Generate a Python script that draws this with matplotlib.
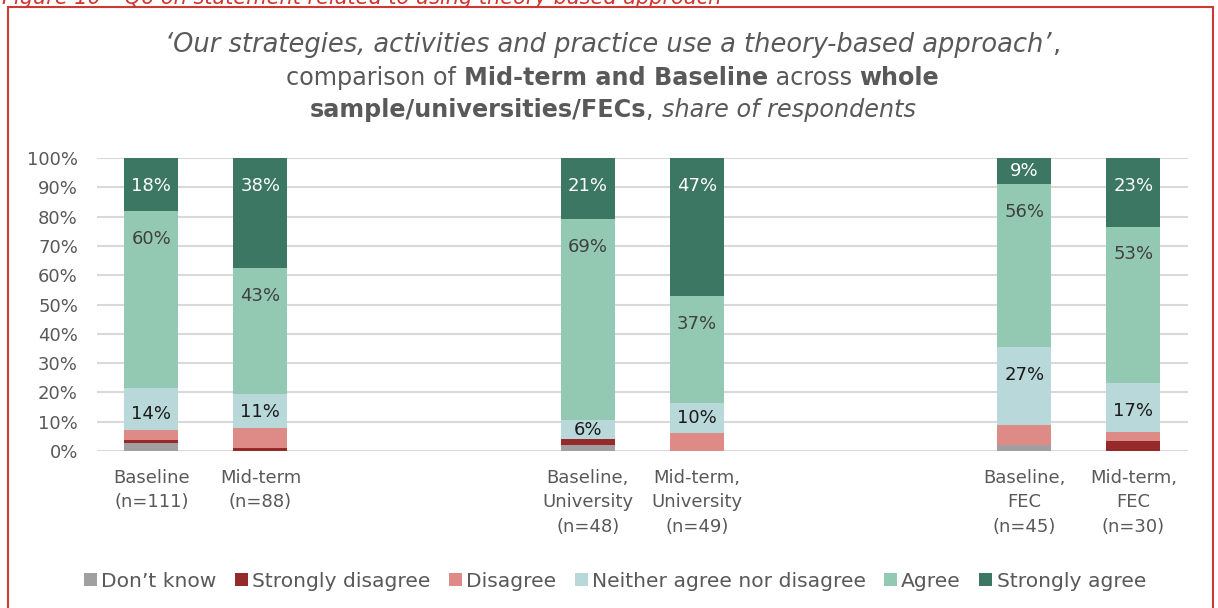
import matplotlib.pyplot as plt
import matplotlib.patches as patches
import numpy as np

# slots 2,3,6,7 are empty spacers between the groups
positions = [0, 1, 4, 5, 8, 9]
tick_labels = ["Baseline\n(n=111)", "Mid-term\n(n=88)",
               "Baseline,\nUniversity\n(n=48)", "Mid-term,\nUniversity\n(n=49)",
               "Baseline,\nFEC\n(n=45)", "Mid-term,\nFEC\n(n=30)"]

series_names = ["Don’t know", "Strongly disagree", "Disagree",
                "Neither agree nor disagree", "Agree", "Strongly agree"]
series_colors = ["#a0a0a0", "#962a2a", "#de8a86", "#b9d8da", "#93c9b2", "#3b7762"]

dont_know = [2.7, 0.0, 2.1, 0.0, 2.2, 0.0]
strongly_disagree = [0.9, 1.1, 2.1, 0.0, 0.0, 3.3]
disagree = [3.6, 6.8, 0.0, 6.1, 6.7, 3.3]
neither = [14.4, 11.4, 6.25, 10.2, 26.7, 16.7]
agree = [60.4, 43.2, 68.75, 36.7, 55.6, 53.3]
strongly_agree = [18.0, 37.5, 20.8, 46.9, 8.9, 23.3]

# only the top three series carry data labels
label_colors = {3: "#1a1a1a", 4: "#404040", 5: "white"}

grey = "#595959"
plt.rcParams['font.family'] = ['DejaVu Sans']

fig = plt.figure(figsize=(12.18, 6.08), dpi=100)
ax = fig.add_axes([0.0794, 0.2582, 0.8960, 0.4819])

data = [dont_know, strongly_disagree, disagree, neither, agree, strongly_agree]
bottom = np.zeros(len(positions))
for i, (vals, name, col) in enumerate(zip(data, series_names, series_colors)):
    vals = np.array(vals)
    ax.bar(positions, vals, width=0.495, bottom=bottom, color=col, label=name, zorder=3)
    if i in label_colors:
        for x, b, v in zip(positions, bottom, vals):
            top = b + v
            y = max(top - 9.5, min(b + 5.5, b + v / 2))
            ax.text(x, y, f"{v:.0f}%", ha="center", va="center", fontsize=13,
                    color=label_colors[i], zorder=4)
    bottom += vals

ax.set_xlim(-0.5, 9.5)
ax.set_ylim(0, 100)
ax.set_yticks(np.arange(0, 101, 10))
ax.set_yticklabels([f"{t}%" for t in range(0, 101, 10)])
ax.set_xticks(positions)
ax.set_xticklabels(tick_labels, linespacing=1.45)
ax.tick_params(axis="both", length=0, colors=grey, labelsize=13)
ax.tick_params(axis="x", pad=13)
ax.tick_params(axis="y", pad=13.5)
for s in ax.spines.values():
    s.set_visible(False)
ax.yaxis.grid(True, color="#d9d9d9", linewidth=1.5, zorder=0)

leg = fig.legend(loc="center", bbox_to_anchor=(0.505, 0.044), ncol=6, frameon=False,
                 fontsize=14.6, handlelength=0.65, handleheight=0.65,
                 handletextpad=0.2, columnspacing=0.9)
for t in leg.get_texts():
    t.set_color(grey)

# title with mixed styles, built piece by piece
renderer = fig.canvas.get_renderer()


def rich_line(y, parts, xc=0.503, size=17.2):
    objs = []
    for txt, style, weight in parts:
        objs.append(fig.text(0, y, txt, fontsize=size, style=style, weight=weight,
                             color=grey, va="center", ha="left"))
    widths = [o.get_window_extent(renderer).width / fig.bbox.width for o in objs]
    x = xc - sum(widths) / 2
    for o, w in zip(objs, widths):
        o.set_x(x)
        x += w


rich_line(1 - 45 / 608, [("‘Our strategies, activities and practice use a theory-based approach’", "italic", "normal"),
                         (",", "normal", "normal")], size=18.5)
rich_line(1 - 78 / 608, [("comparison of ", "normal", "normal"),
                         ("Mid-term and Baseline", "normal", "bold"),
                         (" across ", "normal", "normal"),
                         ("whole", "normal", "bold")])
rich_line(1 - 110 / 608, [("sample/universities/FECs", "normal", "bold"),
                          (", ", "normal", "normal"),
                          ("share of respondents", "italic", "normal")])

# clipped caption above the frame and the red frame itself
fig.text(0.002, 1.004, "Figure 10 – Q6 on statement related to using theory-based approach",
         fontsize=15, style="italic", color="#d0352f", va="center", ha="left")
fig.patches.append(patches.Rectangle((8 / 1218, -0.05), (1213 - 8) / 1218, 1.05 - 7 / 608,
                                     transform=fig.transFigure, fill=False,
                                     edgecolor="#cc3b33", linewidth=1.5))

fig.savefig("out.png", dpi=100)
